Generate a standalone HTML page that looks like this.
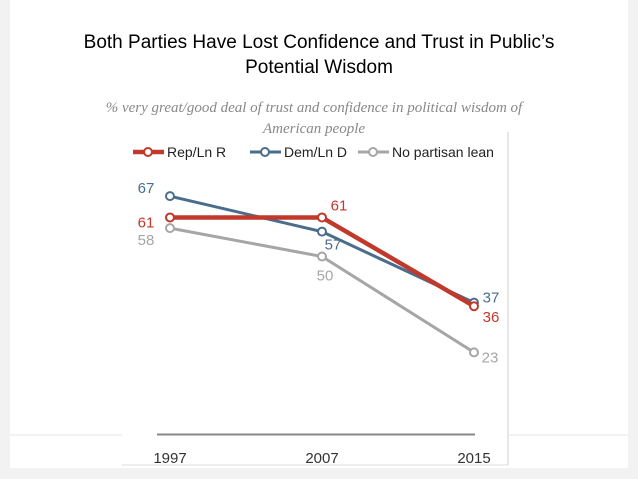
<!DOCTYPE html>
<html><head><meta charset="utf-8"><style>
body{margin:0;width:638px;height:479px;background:#f2f2f2;overflow:hidden;font-family:"Liberation Sans",sans-serif}
#slide{position:absolute;left:10px;top:0;width:618px;height:468px;background:#fff}
</style></head><body>
<div id="slide"></div>
<svg width="638" height="479" style="position:absolute;left:0;top:0">
<text x="319" y="48" text-anchor="middle" font-size="19" fill="#000">Both Parties Have Lost Confidence and Trust in Public’s</text>
<text x="319" y="73" text-anchor="middle" font-size="19" fill="#000">Potential Wisdom</text>
<text x="314" y="112" text-anchor="middle" font-size="15" font-style="italic" fill="#888" font-family="Liberation Serif,serif">% very great/good deal of trust and confidence in political wisdom of</text>
<text x="314" y="133" text-anchor="middle" font-size="15" font-style="italic" fill="#888" font-family="Liberation Serif,serif">American people</text>
<line x1="10" y1="435" x2="122" y2="435" stroke="#e6e6e6"/>
<line x1="509" y1="435" x2="628" y2="435" stroke="#e6e6e6"/>
<line x1="508" y1="132" x2="508" y2="465" stroke="#ccc"/>
<line x1="122" y1="465" x2="508" y2="465" stroke="#ddd"/>
<line x1="157" y1="434.5" x2="475" y2="434.5" stroke="#888" stroke-width="2" id="xaxis"/>
<g id="legend"></g>
<g id="plot"></g>
</svg>
<script>
const years=["1997","2007","2015"];
const rep=[61,61,36];
const dem=[67,57,37];
const non=[58,50,23];
function x(i){return 170+i*152;}
function y(v){return 434-v*3.55;}
const NS="http://www.w3.org/2000/svg";
const plot=document.getElementById('plot');
function mk(t,a,p){const e=document.createElementNS(NS,t);for(const k in a)e.setAttribute(k,a[k]);(p||plot).appendChild(e);return e;}
years.forEach((yr,i)=>{const t=mk('text',{x:x(i),y:463,'text-anchor':'middle','font-size':15,fill:'#333'});t.textContent=yr;

});
const series=[
 {n:'no-partisan-lean',d:non,c:'#a6a6a6',w:3,off:[[-24,12],[3,19],[16,5]]},
 {n:'dem-ln-d',d:dem,c:'#4a6d8c',w:3,off:[[-24,-8],[11,13],[17,-5]]},
 {n:'rep-ln-r',d:rep,c:'#c0392b',w:4.5,off:[[-24,5],[17,-12],[17,11]]}];
series.forEach(s=>{
 const pts=s.d.map((v,i)=>x(i)+','+y(v)).join(' ');
 const l=mk('polyline',{points:pts,fill:'none',stroke:s.c,'stroke-width':s.w});
 
 
 s.d.forEach((v,i)=>{
  const c=mk('circle',{cx:x(i),cy:y(v),r:4,fill:'#fff',stroke:s.c,'stroke-width':2});
  
  
  const t=mk('text',{x:x(i)+s.off[i][0],y:y(v)+s.off[i][1]+5,'text-anchor':'middle','font-size':15,fill:s.c});
  t.textContent=v;
  
  
 });
});
const lg=document.getElementById('legend');
[['Rep/Ln R','#c0392b',133,4.5],['Dem/Ln D','#4a6d8c',250,3],['No partisan lean','#a6a6a6',358,3]].forEach(e=>{
 mk('line',{x1:e[2],y1:152,x2:e[2]+31,y2:152,stroke:e[1],'stroke-width':e[3]},lg);
 mk('circle',{cx:e[2]+15,cy:152,r:4,fill:'#fff',stroke:e[1],'stroke-width':2},lg);
 const t=mk('text',{x:e[2]+34,y:157,'font-size':14,fill:'#222'},lg);t.textContent=e[0];
 
 
});
</script>
</body></html>
